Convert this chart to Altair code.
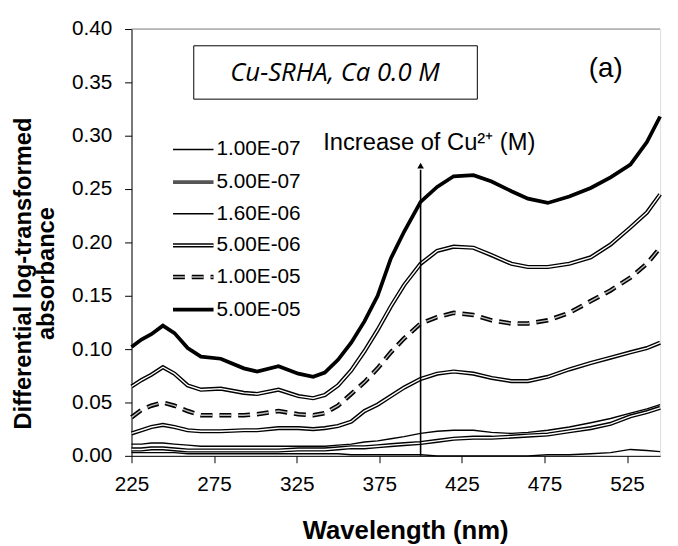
import altair as alt
import pandas as pd

# ---------------- data ----------------
wavelength = [225, 231, 237, 244, 251, 259, 267, 279, 293, 301, 314, 326, 335, 342, 350,
              358, 366, 374, 382, 390, 400, 410, 420, 432, 443, 455, 465, 477, 490, 503,
              515, 527, 537, 545]

s_1e7 = [0.003, 0.003, 0.003, 0.003, 0.003, 0.002, 0.002, 0.002, 0.002, 0.002, 0.002, 0.002,
         0.002, 0.002, 0.002, 0.001, 0.001, 0.001, 0.001, 0.001, 0.001, 0.000, 0.000, 0.000,
         0.000, 0.000, 0.000, 0.001, 0.001, 0.002, 0.003, 0.006, 0.005, 0.004]
s_5e7 = [0.006, 0.006, 0.007, 0.007, 0.006, 0.005, 0.005, 0.005, 0.005, 0.005, 0.005, 0.006,
         0.006, 0.006, 0.007, 0.008, 0.008, 0.009, 0.010, 0.011, 0.012, 0.014, 0.016, 0.017,
         0.017, 0.018, 0.019, 0.020, 0.023, 0.026, 0.030, 0.037, 0.041, 0.045]
s_extra = [0.011, 0.011, 0.012, 0.012, 0.011, 0.010, 0.009, 0.009, 0.009, 0.009, 0.009, 0.009,
           0.009, 0.009, 0.010, 0.011, 0.013, 0.014, 0.016, 0.018, 0.021, 0.023, 0.024, 0.024,
           0.022, 0.021, 0.022, 0.024, 0.027, 0.031, 0.035, 0.040, 0.044, 0.048]
s_16e6 = [0.021, 0.024, 0.027, 0.029, 0.027, 0.024, 0.023, 0.023, 0.024, 0.024, 0.026, 0.026,
          0.025, 0.026, 0.028, 0.032, 0.042, 0.048, 0.056, 0.064, 0.072, 0.077, 0.079, 0.077,
          0.073, 0.070, 0.070, 0.074, 0.081, 0.087, 0.092, 0.097, 0.101, 0.106]
s_5e6 = [0.065, 0.071, 0.076, 0.083, 0.077, 0.066, 0.062, 0.063, 0.059, 0.058, 0.062, 0.056,
         0.054, 0.057, 0.066, 0.080, 0.098, 0.118, 0.140, 0.160, 0.180, 0.192, 0.196, 0.195,
         0.188, 0.180, 0.177, 0.177, 0.180, 0.186, 0.198, 0.214, 0.228, 0.245]
s_1e5 = [0.036, 0.043, 0.047, 0.050, 0.047, 0.042, 0.038, 0.038, 0.038, 0.039, 0.042, 0.039,
         0.038, 0.040, 0.047, 0.058, 0.069, 0.082, 0.097, 0.110, 0.124, 0.130, 0.134, 0.132,
         0.127, 0.124, 0.124, 0.127, 0.134, 0.145, 0.155, 0.167, 0.180, 0.195]
s_5e5 = [0.102, 0.109, 0.114, 0.122, 0.115, 0.101, 0.093, 0.091, 0.082, 0.079, 0.084, 0.077,
         0.074, 0.078, 0.090, 0.106, 0.126, 0.150, 0.185, 0.210, 0.238, 0.252, 0.262, 0.263,
         0.257, 0.248, 0.241, 0.237, 0.243, 0.251, 0.261, 0.273, 0.294, 0.318]

series_labels = ["1.00E-07", "5.00E-07", "1.60E-06", "5.00E-06", "1.00E-05", "5.00E-05"]
x_ticks = [225, 275, 325, 375, 425, 475, 525]
y_ticks = [0.0, 0.05, 0.10, 0.15, 0.20, 0.25, 0.30, 0.35, 0.40]

arrow_wl = [400]
arrow_bottom = [0.0]
arrow_top = [0.268]
arrow_tip = [0.272]

rows = []
for name, vals in [("1.00E-07", s_1e7), ("5.00E-07", s_5e7), ("extra", s_extra),
                   ("1.60E-06", s_16e6), ("5.00E-06", s_5e6), ("1.00E-05", s_1e5),
                   ("5.00E-05", s_5e5)]:
    for w, v in zip(wavelength, vals):
        rows.append({"wl": w, "value": v, "series": name})
df = pd.DataFrame(rows)

FONT = "Liberation Sans"
W, H = 535, 432

xs = alt.Scale(domain=[225, 545], nice=False, zero=False)
ys = alt.Scale(domain=[0, 0.4], nice=False)

base = alt.Chart(df).encode(
    x=alt.X("wl:Q", scale=xs, axis=alt.Axis(
        values=x_ticks, format="d", title="Wavelength (nm)", grid=False,
        labelFontSize=21, labelFont=FONT, labelColor="black", labelPadding=11,
        labelFlush=False, labelOverlap=False,
        tickSize=7, tickColor="black", domainColor="black",
        titleFont=FONT, titleFontSize=26, titleFontWeight="bold", titleColor="black",
        titleX=277, titleY=84, titleBaseline="alphabetic", titleAnchor="middle")),
    y=alt.Y("value:Q", scale=ys, axis=alt.Axis(
        values=y_ticks, format=".2f", title=["Differential log-transformed", "absorbance"],
        grid=False, labelFontSize=21, labelFont=FONT, labelColor="black", labelPadding=13,
        labelOverlap=False,
        tickSize=7, tickColor="black", domainColor="black",
        titleFont=FONT, titleFontSize=24, titleFontWeight="bold", titleColor="black",
        titleAngle=-90, titleX=-121, titleY=247, titleAlign="center", titleBaseline="top",
        titleLineHeight=23)),
    detail="series:N",
)

def sel(names):
    return alt.FieldOneOfPredicate(field="series", oneOf=names)

thin = base.transform_filter(sel(["1.00E-07", "extra"])).mark_line(color="black", strokeWidth=1.4)
dbl_outer = base.transform_filter(sel(["5.00E-07", "1.60E-06", "5.00E-06"])).mark_line(
    color="black", strokeWidth=4.2)
dbl_inner = base.transform_filter(sel(["5.00E-07", "1.60E-06", "5.00E-06"])).mark_line(
    color="white", strokeWidth=1.4)
dash_outer = base.transform_filter(sel(["1.00E-05"])).mark_line(
    color="black", strokeWidth=4.6, strokeDash=[12, 7])
dash_inner = base.transform_filter(sel(["1.00E-05"])).mark_line(
    color="#bbbbbb", strokeWidth=1.4, strokeDash=[12, 7])
thick = base.transform_filter(sel(["5.00E-05"])).mark_line(color="black", strokeWidth=3.8)

arrow_df = pd.DataFrame({"wl": arrow_wl, "y0": arrow_bottom, "y1": arrow_top, "tip": arrow_tip})
arrow_line = alt.Chart(arrow_df).mark_rule(color="black", strokeWidth=1.6).encode(
    x=alt.X("wl:Q", scale=xs), y=alt.Y("y0:Q", scale=ys), y2="y1:Q")
arrow_head = alt.Chart(arrow_df).mark_point(shape="triangle-up", filled=True, color="black",
                                            size=45, opacity=1).encode(
    x=alt.X("wl:Q", scale=xs), y=alt.Y("tip:Q", scale=ys))

top_df = pd.DataFrame({"a": [225], "b": [545], "y": [0.4]})
top_rule = alt.Chart(top_df).mark_rule(color="#888888", strokeWidth=1).encode(
    x=alt.X("a:Q", scale=xs), x2="b:Q", y=alt.Y("y:Q", scale=ys))

one = pd.DataFrame({"k": [0]})
box = alt.Chart(one).mark_rect(fill="white", stroke="black", strokeWidth=1).encode(
    x=alt.value(63), x2=alt.value(350), y=alt.value(17), y2=alt.value(71))
box_text = alt.Chart(one).mark_text(text="Cu-SRHA, Ca 0.0 M", font="Open Sans", fontStyle="italic",
                                    fontSize=26, color="black", align="center",
                                    baseline="middle").encode(x=alt.value(206), y=alt.value(45))
panel = alt.Chart(one).mark_text(text="(a)", font=FONT, fontSize=28, color="black",
                                 align="center", baseline="middle").encode(
    x=alt.value(480), y=alt.value(41))
inc = alt.Chart(one).mark_text(text="Increase of Cu²⁺ (M)", font=FONT, fontSize=24, color="black",
                               align="left", baseline="alphabetic").encode(
    x=alt.value(194), y=alt.value(122))

# legend (manual, to show double / dashed line styles)
leg_y = [122, 155, 187, 219, 251, 284]
leg_df = pd.DataFrame({"label": series_labels, "y": leg_y})
def leg_rule(names, **kw):
    return alt.Chart(leg_df).transform_filter(
        alt.FieldOneOfPredicate(field="label", oneOf=names)).mark_rule(**kw).encode(
        x=alt.value(42), x2=alt.value(83), y=alt.Y("y:Q", scale=None))

leg_layers = [
    leg_rule(["1.00E-07", "1.60E-06"], color="black", strokeWidth=1.4),
    leg_rule(["5.00E-07"], color="#555555", strokeWidth=4),
    leg_rule(["5.00E-06"], color="black", strokeWidth=4.2),
    leg_rule(["5.00E-06"], color="white", strokeWidth=1.4),
    leg_rule(["1.00E-05"], color="black", strokeWidth=4.6, strokeDash=[12, 7]),
    leg_rule(["1.00E-05"], color="#bbbbbb", strokeWidth=1.4, strokeDash=[12, 7]),
    leg_rule(["5.00E-05"], color="black", strokeWidth=3.8),
]
leg_text = alt.Chart(leg_df).mark_text(font=FONT, fontSize=21, color="black", align="left",
                                       baseline="middle").encode(
    x=alt.value(86), y=alt.Y("y:Q", scale=None), text="label:N")

chart = alt.layer(
    top_rule, thin, dbl_outer, dbl_inner, dash_outer, dash_inner, thick,
    arrow_line, arrow_head, box, box_text, panel, inc, *leg_layers, leg_text
).properties(
    width=W, height=H,
    padding={"left": 125, "top": 18, "right": 10, "bottom": 88},
    autosize=alt.AutoSizeParams(type="none"),
).configure_view(stroke=None).configure(background="white")

chart.save("out.html", embed_options={"renderer": "svg", "actions": False})
